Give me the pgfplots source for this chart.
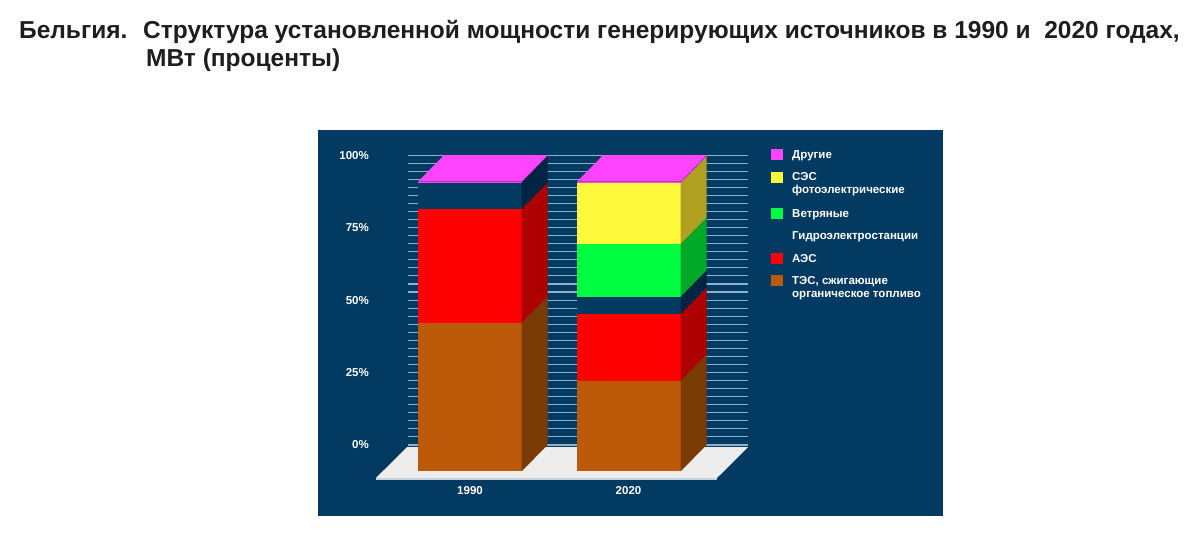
\documentclass[border=0pt]{standalone}
\usepackage{pgfplots}
\pgfplotsset{compat=1.18}
\usepackage{fontspec}
\setmainfont{Liberation Sans}
\definecolor{bg}{HTML}{033A62}
\definecolor{gridc}{HTML}{8FB2CA}
\definecolor{floorc}{HTML}{EDEDED}
\definecolor{flooredge}{HTML}{C8D2DC}
\definecolor{tesF}{HTML}{BC5A0A}
\definecolor{tesS}{HTML}{7B3B05}
\definecolor{aesF}{HTML}{FF0000}
\definecolor{aesS}{HTML}{AE0000}
\definecolor{hydF}{HTML}{033A62}
\definecolor{hydS}{HTML}{012442}
\definecolor{winF}{HTML}{00FF40}
\definecolor{winS}{HTML}{00A828}
\definecolor{solF}{HTML}{FFF93C}
\definecolor{solS}{HTML}{B0A020}
\definecolor{othF}{HTML}{FF44FF}
\definecolor{othS}{HTML}{C030C0}
\definecolor{titlec}{HTML}{1E1E1E}
\newcommand{\tickfont}{\fontsize{11.5}{13}\selectfont\bfseries}
\begin{document}
\begin{tikzpicture}[x=1pt,y=1pt]
\fill[white] (0,0) rectangle (1200,538);
% title
\node[anchor=base west, inner sep=0, text=titlec, font=\fontsize{24.5}{29}\selectfont\bfseries] at (19,499.7) {Бельгия.};
\node[anchor=base west, inner sep=0, text=titlec, font=\fontsize{24.5}{29}\selectfont\bfseries] at (143,499.7) {Структура установленной мощности генерирующих источников в 1990 и\ \ 2020 годах,};
\node[anchor=base west, inner sep=0, text=titlec, font=\fontsize{24.5}{29}\selectfont\bfseries] at (146,471.3) {МВт (проценты)};
% chart background
\fill[bg] (318,22) rectangle (943,408);
% back wall with grid lines
\begin{axis}[at={(408pt,93.02pt)}, anchor=south west, scale only axis,
  width=340pt, height=289.8pt, xmin=0, xmax=1, ymin=0, ymax=100,
  axis line style={draw=none}, xtick=\empty, major tick length=0pt,
  ytick={0,2.778,5.556,8.333,11.111,13.889,16.667,19.444,22.222,25,27.778,30.556,33.333,36.111,38.889,41.667,44.444,47.222,50,52.778,55.556,58.333,61.111,63.889,66.667,69.444,72.222,75,77.778,80.556,83.333,86.111,88.889,91.667,94.444,97.222,100},
  yticklabels={}, ymajorgrids, grid style={gridc, line width=1.1pt}]
\addplot[draw=none] coordinates {(0,0) (1,100)};
\end{axis}
% main 3D bars
\begin{axis}[at={(318pt,22pt)}, anchor=south west, scale only axis,
  width=625pt, height=386pt, xmin=318, xmax=943, ymin=-15.355, ymax=117.84,
  hide axis, clip=false]
% floor
\addplot[fill=floorc, draw=none] coordinates {(376,-2.24) (717,-2.24) (748,8.45) (407,8.45)} --cycle;
\addplot[draw=flooredge, line width=1.2pt] coordinates {(376,-2.6) (717,-2.6)};
% ---- 1990 ----
% fronts
\addplot[fill=tesF, draw=none] coordinates {(418,0) (521.5,0) (521.5,51.3) (418,51.3)} --cycle;
\addplot[fill=aesF, draw=none] coordinates {(418,51.3) (521.5,51.3) (521.5,90.5) (418,90.5)} --cycle;
\addplot[fill=hydF, draw=none] coordinates {(418,90.5) (521.5,90.5) (521.5,99.8) (418,99.8)} --cycle;
\addplot[fill=othF, draw=none] coordinates {(418,99.8) (521.5,99.8) (521.5,100) (418,100)} --cycle;
% sides
\addplot[fill=tesS, draw=none] coordinates {(521.5,0) (547.5,9.15) (547.5,60.45) (521.5,51.3)} --cycle;
\addplot[fill=aesS, draw=none] coordinates {(521.5,51.3) (547.5,60.45) (547.5,99.65) (521.5,90.5)} --cycle;
\addplot[fill=hydS, draw=none] coordinates {(521.5,90.5) (547.5,99.65) (547.5,108.95) (521.5,99.8)} --cycle;
\addplot[fill=othS, draw=none] coordinates {(521.5,99.8) (547.5,108.95) (547.5,109.15) (521.5,100)} --cycle;
% top
\addplot[fill=othF, draw=none] coordinates {(418,100) (444,109.15) (547.5,109.15) (521.5,100)} --cycle;
% ---- 2020 ----
\addplot[fill=tesF, draw=none] coordinates {(577,0) (680.5,0) (680.5,31.3) (577,31.3)} --cycle;
\addplot[fill=aesF, draw=none] coordinates {(577,31.3) (680.5,31.3) (680.5,54.3) (577,54.3)} --cycle;
\addplot[fill=hydF, draw=none] coordinates {(577,54.3) (680.5,54.3) (680.5,60.3) (577,60.3)} --cycle;
\addplot[fill=winF, draw=none] coordinates {(577,60.3) (680.5,60.3) (680.5,78.5) (577,78.5)} --cycle;
\addplot[fill=solF, draw=none] coordinates {(577,78.5) (680.5,78.5) (680.5,99.6) (577,99.6)} --cycle;
\addplot[fill=othF, draw=none] coordinates {(577,99.6) (680.5,99.6) (680.5,100) (577,100)} --cycle;
\addplot[fill=tesS, draw=none] coordinates {(680.5,0) (706.5,9.15) (706.5,40.45) (680.5,31.3)} --cycle;
\addplot[fill=aesS, draw=none] coordinates {(680.5,31.3) (706.5,40.45) (706.5,63.45) (680.5,54.3)} --cycle;
\addplot[fill=hydS, draw=none] coordinates {(680.5,54.3) (706.5,63.45) (706.5,69.45) (680.5,60.3)} --cycle;
\addplot[fill=winS, draw=none] coordinates {(680.5,60.3) (706.5,69.45) (706.5,87.65) (680.5,78.5)} --cycle;
\addplot[fill=solS, draw=none] coordinates {(680.5,78.5) (706.5,87.65) (706.5,108.75) (680.5,99.6)} --cycle;
\addplot[fill=othS, draw=none] coordinates {(680.5,99.6) (706.5,108.75) (706.5,109.15) (680.5,100)} --cycle;
\addplot[fill=othF, draw=none] coordinates {(577,100) (603,109.15) (706.5,109.15) (680.5,100)} --cycle;
% axis labels
\node[anchor=east, inner sep=0, text=white, font=\tickfont] at (axis cs:369,109.15) {100\%};
\node[anchor=east, inner sep=0, text=white, font=\tickfont] at (axis cs:369,84.15) {75\%};
\node[anchor=east, inner sep=0, text=white, font=\tickfont] at (axis cs:369,59.15) {50\%};
\node[anchor=east, inner sep=0, text=white, font=\tickfont] at (axis cs:369,34.15) {25\%};
\node[anchor=east, inner sep=0, text=white, font=\tickfont] at (axis cs:369,9.15) {0\%};
\node[anchor=center, inner sep=0, text=white, font=\tickfont] at (axis cs:470,-6.4) {1990};
\node[anchor=center, inner sep=0, text=white, font=\tickfont] at (axis cs:628.5,-6.4) {2020};
\end{axis}
% legend
\fill[othF] (771,377.5) rectangle (783,388.5);
\fill[solF] (771,355) rectangle (783,366);
\fill[winF] (771,319) rectangle (783,330);
\fill[aesF] (771,273.5) rectangle (783,284.5);
\fill[tesF] (771,251.5) rectangle (783,262.5);
\begin{scope}[every node/.style={anchor=base west, inner sep=0, text=white, font=\tickfont}]
\node at (792,379) {Другие};
\node at (792,357) {СЭС};
\node at (792,344) {фотоэлектрические};
\node at (792,320.5) {Ветряные};
\node at (792,298.3) {Гидроэлектростанции};
\node at (792,275) {АЭС};
\node at (792,253) {ТЭС, сжигающие};
\node at (792,240) {органическое топливо};
\end{scope}
\end{tikzpicture}
\end{document}
